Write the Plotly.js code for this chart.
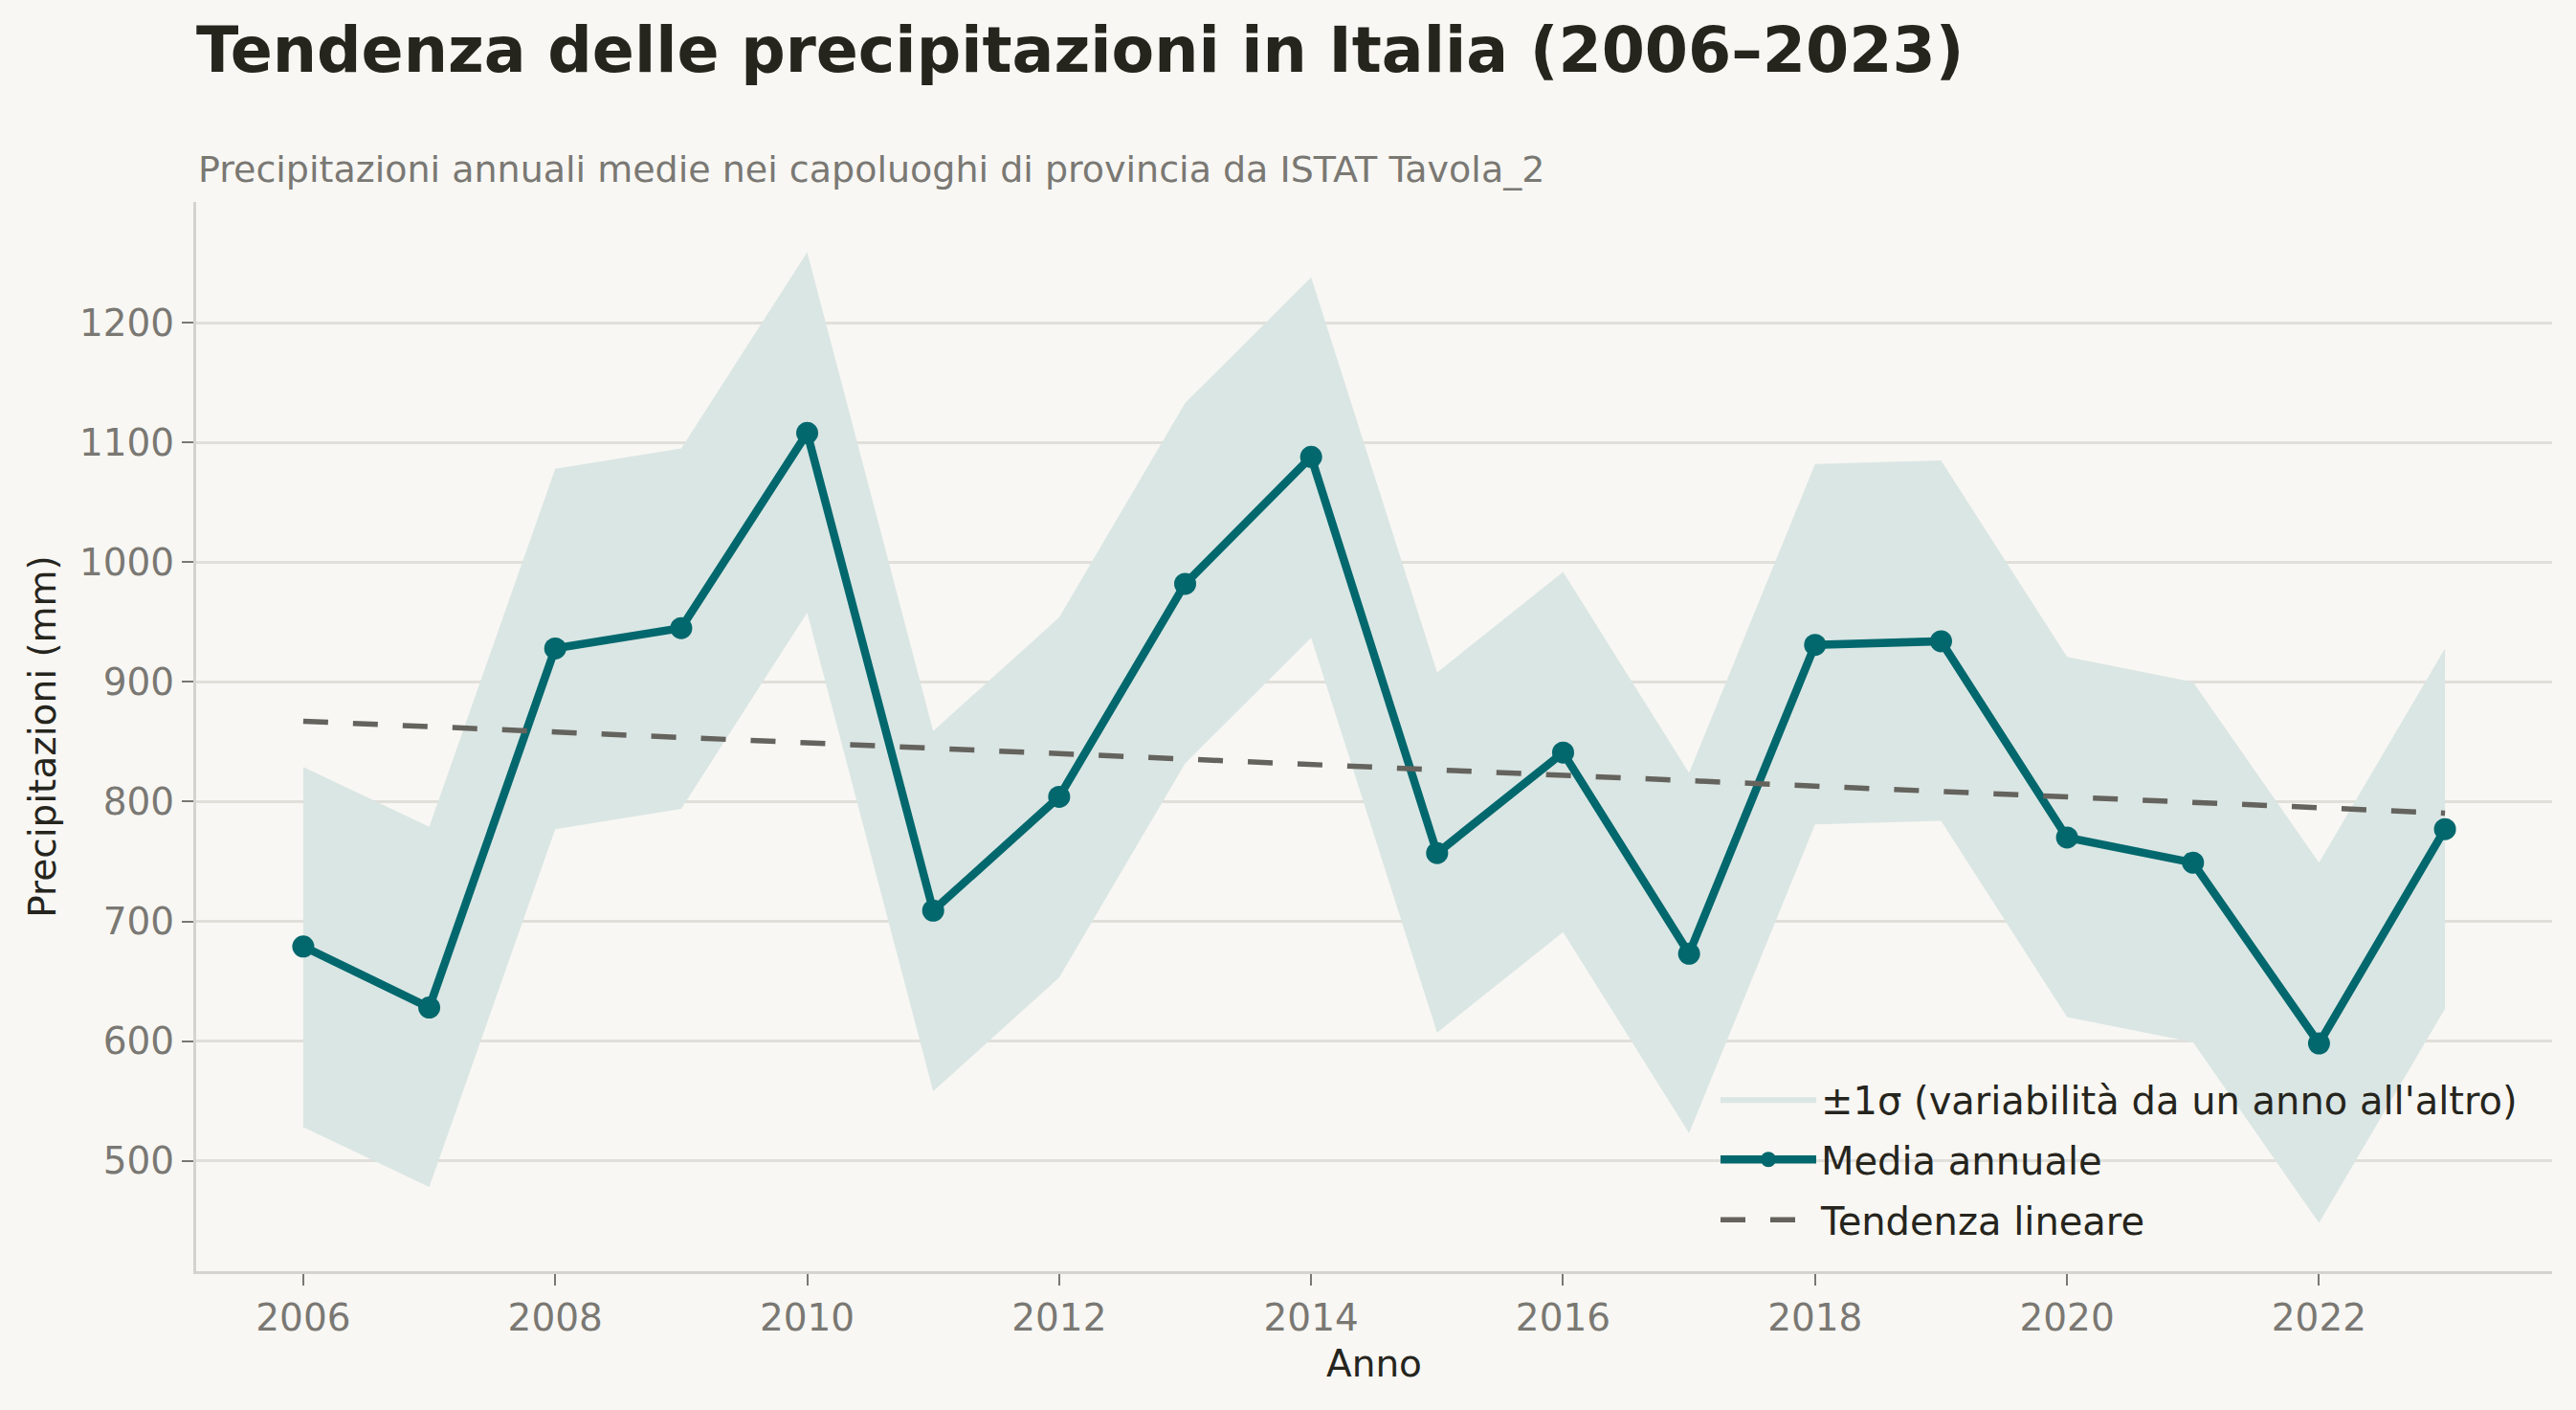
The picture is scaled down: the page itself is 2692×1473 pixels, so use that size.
<!DOCTYPE html>
<html>
<head>
<meta charset="utf-8">
<script src="https://cdn.plot.ly/plotly-3.0.1.min.js"></script>
<style>
  html, body { margin: 0; padding: 0; background: #f8f7f3; }
  #chart { width: 2692px; height: 1473px; }
</style>
</head>
<body>
<div id="chart"></div>
<script>
// ---- Data ----
const years = [2006, 2007, 2008, 2009, 2010, 2011, 2012, 2013, 2014, 2015, 2016, 2017, 2018, 2019, 2020, 2021, 2022, 2023];
const meanPrecip = [679, 628, 928, 945, 1108, 709, 804, 982, 1088, 757, 841, 673, 931, 934, 770, 749, 598, 777];
const bandUpper = [829, 779, 1078, 1095, 1259, 859, 954, 1133, 1238, 908, 992, 824, 1082, 1085, 921, 900, 749, 928];
const bandLower = [528, 478, 777, 794, 958, 558, 653, 832, 937, 607, 691, 523, 781, 784, 620, 599, 448, 627];
const trendYears = [2006, 2023];
const trendValues = [867.2, 790.4];
const xTickVals = [2006, 2008, 2010, 2012, 2014, 2016, 2018, 2020, 2022];
const yTickVals = [500, 600, 700, 800, 900, 1000, 1100, 1200];

const titleText = 'Tendenza delle precipitazioni in Italia (2006–2023)';
const subtitleText = 'Precipitazioni annuali medie nei capoluoghi di provincia da ISTAT Tavola_2';
const seriesNames = ["±1σ (variabilità da un anno all'altro)", 'Media annuale', 'Tendenza lineare'];

// ---- Colours ----
const BG = '#f8f7f3';
const TEAL = '#02686d';
const BAND = '#dae6e4';
const TREND = '#65635d';
const DARK = '#26251d';
const GRAYTXT = '#7a7873';
const GRID = '#e0dfda';
const SPINE = '#d5d3ce';
const FONT = 'DejaVu Sans, Liberation Sans, sans-serif';

// band polygon built from the upper/lower arrays
const bandX = years.concat(years.slice().reverse());
const bandY = bandUpper.concat(bandLower.slice().reverse());

const traces = [
  {
    x: bandX, y: bandY, type: 'scatter', mode: 'lines',
    fill: 'toself', fillcolor: BAND,
    line: { width: 0, color: BAND },
    name: seriesNames[0], legendgroup: 'g1', hoverinfo: 'skip'
  },
  {
    x: years, y: meanPrecip, type: 'scatter', mode: 'lines+markers',
    line: { color: TEAL, width: 8.5 },
    marker: { color: TEAL, size: 23 },
    name: seriesNames[1], legendgroup: 'g2'
  },
  {
    x: trendYears, y: trendValues, type: 'scatter', mode: 'lines',
    line: { color: TREND, width: 5.5, dash: '26px,26px' },
    name: seriesNames[2], legendgroup: 'g3'
  }
];

const layout = {
  width: 2692, height: 1473,
  paper_bgcolor: BG, plot_bgcolor: BG,
  margin: { l: 205, r: 25, t: 211, b: 145 },
  font: { family: FONT, size: 39, color: DARK },
  title: {
    text: '<b>' + titleText + '</b>',
    font: { family: FONT, size: 65, color: DARK },
    xref: 'paper', x: 0, xanchor: 'left',
    yref: 'container', y: 0.9644, yanchor: 'middle'
  },
  annotations: [{
    text: subtitleText, showarrow: false,
    xref: 'paper', x: 0, xanchor: 'left',
    yref: 'paper', y: 1.0304, yanchor: 'middle',
    font: { family: FONT, size: 38, color: GRAYTXT }
  }],
  xaxis: {
    range: [2005.15, 2023.85],
    tickvals: xTickVals, ticktext: xTickVals.map(String),
    showgrid: false, zeroline: false,
    showline: true, linecolor: SPINE, linewidth: 3,
    ticks: 'outside', ticklen: 12, tickwidth: 2, tickcolor: GRAYTXT,
    tickfont: { family: FONT, size: 39, color: GRAYTXT },
    title: { text: 'Anno', font: { family: FONT, size: 39, color: DARK }, standoff: 13 }
  },
  yaxis: {
    range: [407.7, 1301],
    tickvals: yTickVals, ticktext: yTickVals.map(String),
    showgrid: true, gridcolor: GRID, gridwidth: 2.5,
    zeroline: false,
    showline: true, linecolor: SPINE, linewidth: 3,
    ticks: 'outside', ticklen: 12, tickwidth: 2, tickcolor: GRAYTXT,
    tickfont: { family: FONT, size: 39, color: GRAYTXT },
    title: { text: 'Precipitazioni (mm)', font: { family: FONT, size: 39, color: DARK }, standoff: 13 }
  },
  legend: {
    x: 0.6450, xanchor: 'left', y: 0.19, yanchor: 'top',
    bgcolor: 'rgba(0,0,0,0)',
    font: { family: FONT, size: 40, color: DARK },
    traceorder: 'grouped', tracegroupgap: 8,
    itemwidth: 100
  },
  showlegend: true
};

Plotly.newPlot('chart', traces, layout, { displayModeBar: false, staticPlot: true });
</script>
</body>
</html>
